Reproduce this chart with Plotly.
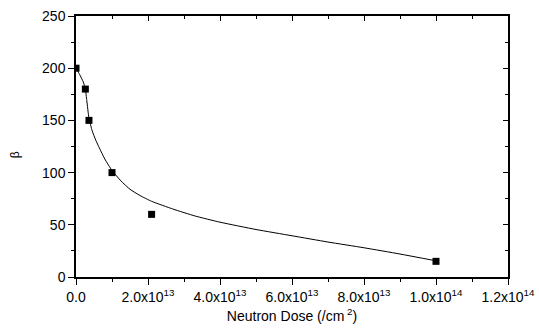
import plotly.graph_objects as go

# Measured beta versus neutron dose
dose = [0.0, 2.6e12, 3.6e12, 1.0e13, 2.1e13, 1.0e14]
beta = [200, 180, 150, 100, 60, 15]

# Fitted trend curve (sampled along the fit)
fit_dose = [0, 1e12, 2e12, 2.6e12, 3.0e12, 3.6e12, 4.5e12, 5.5e12, 6.5e12, 8e12,
            10e12, 12.5e12, 15e12, 17.8e12, 21e12, 27e12, 33e12, 40e12, 50e12,
            60e12, 70e12, 80e12, 90e12, 100e12]
fit_beta = [200, 194, 187, 180, 169, 152, 140, 131, 123.5, 113,
            102, 92, 84, 78, 72.5, 65, 58.5, 52.5, 45.5,
            39.5, 33.5, 28, 22, 15.5]

x_tickvals = [0, 2e13, 4e13, 6e13, 8e13, 1e14, 1.2e14]
x_ticktext = ["0.0", "2.0x10<sup>13</sup>", "4.0x10<sup>13</sup>", "6.0x10<sup>13</sup>",
              "8.0x10<sup>13</sup>", "1.0x10<sup>14</sup>", "1.2x10<sup>14</sup>"]
x_minor = [1e13, 3e13, 5e13, 7e13, 9e13, 1.1e14]
y_tickvals = [0, 50, 100, 150, 200, 250]
y_minor = [25, 75, 125, 175, 225]

font = dict(family="Liberation Sans, Arial, sans-serif", size=14, color="black")

fig = go.Figure()
fig.add_trace(go.Scatter(x=fit_dose, y=fit_beta, mode="lines",
                         line=dict(color="black", width=1, shape="spline", smoothing=0.5),
                         hoverinfo="skip", showlegend=False))
fig.add_trace(go.Scatter(x=dose, y=beta, mode="markers",
                         marker=dict(symbol="square", size=7, color="black"),
                         showlegend=False))
# invisible trace carrying the top/right frame axes
fig.add_trace(go.Scatter(x=[0], y=[0], xaxis="x2", yaxis="y2", mode="markers",
                         marker=dict(opacity=0), showlegend=False, hoverinfo="skip"))

axis_common = dict(showgrid=False, zeroline=False, showline=True, linecolor="black",
                   linewidth=1.5, tickcolor="black", tickwidth=1, automargin=False)

fig.update_layout(
    width=539, height=336,
    margin=dict(l=76, r=31, t=16, b=59),
    paper_bgcolor="white", plot_bgcolor="white",
    font=font,
    xaxis=dict(range=[0, 1.2e14], tickvals=x_tickvals, ticktext=x_ticktext,
               ticks="outside", ticklen=6,
               minor=dict(tickvals=x_minor, ticks="outside", ticklen=3, tickcolor="black"),
               title=dict(text="Neutron Dose (/cm<sup> 2</sup>)", font=dict(size=14), standoff=8),
               **axis_common),
    yaxis=dict(range=[0, 250], tickvals=y_tickvals, ticks="outside", ticklen=6,
               minor=dict(tickvals=y_minor, ticks="outside", ticklen=3, tickcolor="black"),
               **axis_common),
    xaxis2=dict(range=[0, 1.2e14], overlaying="x", side="top", tickvals=x_tickvals,
                showticklabels=False, ticks="inside", ticklen=5,
                minor=dict(tickvals=x_minor, ticks="inside", ticklen=3, tickcolor="black"),
                **axis_common),
    yaxis2=dict(range=[0, 250], overlaying="y", side="right", tickvals=y_tickvals,
                showticklabels=False, ticks="inside", ticklen=5,
                minor=dict(tickvals=y_minor, ticks="inside", ticklen=3, tickcolor="black"),
                **axis_common),
    annotations=[dict(text="β", xref="paper", yref="paper", x=-0.141, y=0.467,
                      textangle=-90, showarrow=False, font=dict(size=12),
                      xanchor="center", yanchor="middle")],
)

fig.write_html("out.html")
